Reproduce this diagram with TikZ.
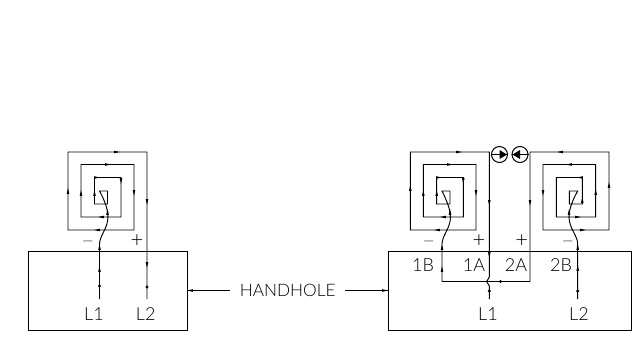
\documentclass[tikz,border=0pt]{standalone}
\usepackage{fontspec}
\setmainfont{Lato Light}
\newcommand\hR[2]{\fill ({#1+2.8},{#2}) -- ({#1-2.8},{#2-1.3}) -- ({#1-2.8},{#2+1.3}) -- cycle;}
\newcommand\hL[2]{\fill ({#1-2.8},{#2}) -- ({#1+2.8},{#2-1.3}) -- ({#1+2.8},{#2+1.3}) -- cycle;}
\newcommand\hU[2]{\fill ({#1},{#2-2.8}) -- ({#1-1.3},{#2+2.8}) -- ({#1+1.3},{#2+2.8}) -- cycle;}
\newcommand\hD[2]{\fill ({#1},{#2+2.8}) -- ({#1-1.3},{#2-2.8}) -- ({#1+1.3},{#2-2.8}) -- cycle;}
\tikzset{
  wire/.style={line width=0.95pt,draw=black},
  lbl/.style={font=\fontsize{18}{18}\selectfont,text=black,inner sep=0pt},
  hhlbl/.style={font=\fontsize{17.2}{17.2}\selectfont,text=black,inner sep=0pt},
  signp/.style={font=\fontsize{22}{22}\selectfont,text=black,inner sep=0pt},
  signm/.style={font=\fontsize{14}{14}\selectfont,text=black,inner sep=0pt},
  hole/.style={draw=black,line width=0.95pt,minimum height=79pt,inner sep=0pt,anchor=north west},
  valve/.style={circle,draw=black,line width=1pt,minimum size=16pt,inner sep=0pt},
  dotmark/.style={circle,fill=black,minimum size=3.4pt,inner sep=0pt},
}
\begin{document}
\begin{tikzpicture}[x=1pt,y=-1pt]
\useasboundingbox (0,0) rectangle (638,338);
\fill[white] (0,0) rectangle (638,338);
% handholes
\node[hole,minimum width=158.5pt] (box1) at (28,251) {};
\node[hole,minimum width=243pt] (box2) at (388,251) {};
% left coil
\draw[wire] (147,299) -- (147,152) -- (68,152) -- (68,230) -- (134,230) -- (134,164.5) -- (81,164.5) -- (81,217) -- (121,217) -- (121,177.5) -- (94.5,177.5) -- (94.5,204) -- (107.5,204) -- (107.5,191) -- (99.5,191)
  .. controls (105,201) and (108,210) .. (108,217) .. controls (108,228) and (99.5,236) .. (99.5,244) -- (99.5,299);
% right coil 1
\draw[wire] (489.3,277) -- (489.3,152) -- (410.3,152) -- (410.3,230) -- (476,230) -- (476,164.5) -- (423.3,164.5) -- (423.3,217) -- (463.3,217) -- (463.3,177.5) -- (436.7,177.5) -- (436.7,204) -- (450,204) -- (450,191) -- (442,191)
  .. controls (447,201) and (450.5,210) .. (450.5,217) .. controls (450.5,228) and (442,236) .. (442,244) -- (442,281.5) -- (486.5,281.5) -- (530,281.5) -- (530,152) -- (609,152) -- (609,230) -- (543,230) -- (543,164.5) -- (595.7,164.5) -- (595.7,217) -- (556.3,217) -- (556.3,177.5) -- (582.3,177.5) -- (582.3,204) -- (569.3,204) -- (569.3,191) -- (577.7,191)
  .. controls (572,201) and (569,210) .. (569,217) .. controls (569,228) and (577.7,236) .. (577.7,244) -- (577.7,299);
\draw[wire] (489.3,277) .. controls (489.3,279) and (486.5,280) .. (486.5,281.5) .. controls (486.5,283) and (489.3,284) .. (489.3,286) -- (489.3,299);
% valves
\node[valve] (v1) at (499.5,154.5) {};
\node[valve] (v2) at (520,154.5) {};
\draw[wire] (v1.west) -- (v1.east);
\draw[wire] (v2.west) -- (v2.east);
\fill (507,154.5) -- (499.5,150) -- (499.5,159) -- cycle;
\fill (512.5,154.5) -- (520,150) -- (520,159) -- cycle;
% arrowheads: left coil
\hR{117}{152}\hU{68}{191}\hL{97}{230}\hD{134}{193}\hR{108}{164.5}\hU{81}{193}\hL{101}{217}\hD{121}{181}\hR{97}{177.5}\hU{94.5}{193}\hU{107.5}{212}\hU{99.5}{247}\hU{99.5}{269}\hD{147}{202}\hD{147}{265}
% right coil 1
\hR{459}{152}\hU{410.3}{188}\hL{437}{230}\hD{476}{193}\hR{450}{164.5}\hU{423.3}{193}\hL{443}{217}\hD{463.3}{181}\hR{439}{177.5}\hU{436.7}{193}\hU{450}{212}\hU{442}{247}\hU{442}{269}\hD{489.3}{203}\hD{489.3}{255}
% right coil 2
\hL{560}{152}\hU{609}{185}\hR{583}{230}\hD{543}{193}\hL{569}{164.5}\hU{595.7}{192}\hR{578}{217}\hU{582.3}{200}\hL{580}{177.5}\hU{569}{212}\hU{577.7}{247}\hU{577.7}{268}\hD{530}{203}
% dots
\node[dotmark] (d1) at (99.5,286) {};
\node[dotmark] (d2) at (147,287) {};
\node[dotmark] (d3) at (489.3,291) {};
\node[dotmark] (d4) at (577.7,291) {};
\node[dotmark] (d5) at (500.5,281.5) {};
% labels
\node[signm] (m1) at (88,243) {—};
\node[signp] (p1) at (137,241) {+};
\node[lbl] (l1a) at (94,314) {L1};
\node[lbl] (l2a) at (145.7,314) {L2};
\node[signm] (m2) at (429,243) {—};
\node[signp] (p2) at (479,241) {+};
\node[signp] (p3) at (521.7,241) {+};
\node[signm] (m3) at (568,243) {—};
\node[lbl] (t1b) at (423,265) {1B};
\node[lbl] (t1a) at (474,265) {1A};
\node[lbl] (t2a) at (516,265) {2A};
\node[lbl] (t2b) at (561,265) {2B};
\node[lbl] (l1b) at (488,314) {L1};
\node[lbl] (l2b) at (579,314) {L2};
\node[hhlbl] (hh) at (287.7,290.5) {HANDHOLE};
\coordinate (aL) at (230,290.5);
\coordinate (aR) at (345,290.5);
\draw[wire] (aL) -- (box1.east |- aL);
\draw[wire] (aR) -- (box2.west |- aR);
\hL{190}{290.5}\hR{385}{290.5}
\end{tikzpicture}
\end{document}
